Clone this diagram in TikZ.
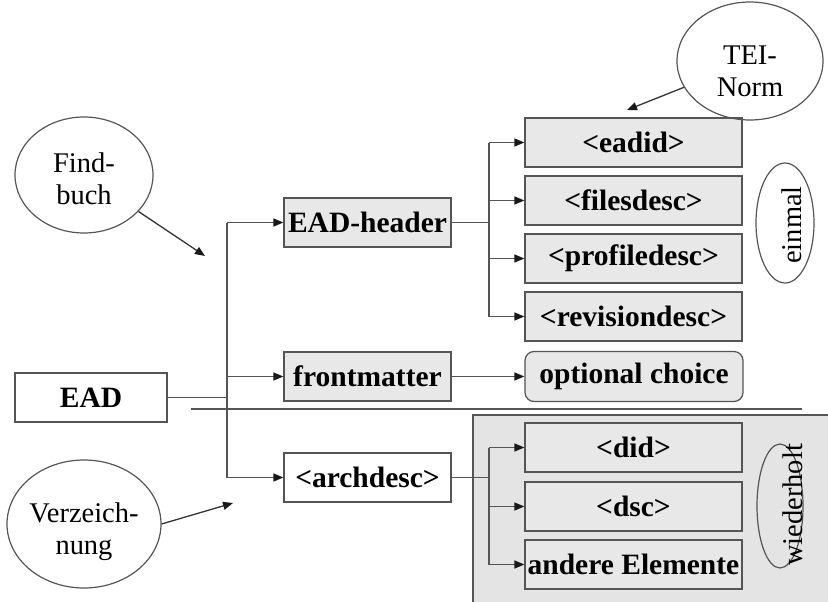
\documentclass[tikz,border=0pt]{standalone}
\usepackage{fontspec}
\setmainfont{Liberation Serif}
\usetikzlibrary{shapes.geometric,arrows.meta}
\definecolor{linegray}{HTML}{555555}
\definecolor{boxfill}{HTML}{E8E8E8}
\definecolor{panelfill}{HTML}{E4E4E4}
\begin{document}
\begin{tikzpicture}[x=1pt,y=-1pt,
  box/.style={draw=linegray, line width=1.2pt, fill=boxfill, minimum height=49pt,
    inner sep=0pt, font=\fontsize{29.5}{32}\selectfont\bfseries},
  conn/.style={draw=linegray, line width=1.3pt},
  arr/.style={conn, -{Triangle[length=10pt,width=8pt,color=black!90]}},
  ell/.style={ellipse, draw=linegray, line width=1.2pt, inner sep=0pt},
  elltext/.style={align=center, inner sep=0pt, font=\fontsize{28.5}{32}\selectfont}
]
\useasboundingbox (0,0) rectangle (828,602);

% panel for repeated elements
\fill[panelfill] (473,415) rectangle (828,602);
\draw[linegray, line width=1.2pt] (473,602) -- (473,415) -- (828,415);

% separator line
\coordinate (sepL) at (191,409);
\coordinate (sepR) at (802,409);
\draw[linegray, line width=2.5pt] (sepL) -- (sepR);

% main boxes
\node[box, fill=white, minimum width=152pt] (ead) at (91,397.5) {EAD};
\node[box, minimum width=167pt] (hdr) at (367.5,222.5) {EAD-header};
\node[box, minimum width=167pt] (front) at (367.5,376.5) {frontmatter};
\node[box, fill=white, minimum width=167pt] (arch) at (367.5,477.5) {<archdesc>};

\node[box, minimum width=217pt] (eadid) at (633.5,142.5) {<eadid>};
\node[box, minimum width=217pt] (files) at (633.5,200.5) {<filesdesc>};
\node[box, minimum width=217pt] (prof) at (633.5,258.5) {<profiledesc>};
\node[box, minimum width=217pt] (rev) at (633.5,316.5) {<revisiondesc>};

\node[box, rounded corners=9pt, minimum width=218pt, minimum height=50pt] (opt) at (634,376.5) {optional choice};

\node[box, minimum width=217pt] (did) at (633.5,447.5) {<did>};
\node[box, minimum width=217pt] (dsc) at (633.5,506.5) {<dsc>};
\node[box, minimum width=217pt] (other) at (633.5,564.5) {andere Elemente};

% branch coordinates
\coordinate (trunk) at (227,0);
\coordinate (br) at (489,0);

% EAD trunk
\draw[conn] (ead.east) -- (ead.east -| trunk);
\draw[conn] (hdr.west -| trunk) -- (arch.west -| trunk);
\draw[arr] (hdr.west -| trunk) -- (hdr.west);
\draw[arr] (front.west -| trunk) -- (front.west);
\draw[arr] (arch.west -| trunk) -- (arch.west);

% header branch
\draw[conn] (hdr.east) -- (hdr.east -| br);
\draw[conn] (eadid.west -| br) -- (rev.west -| br);
\draw[arr] (eadid.west -| br) -- (eadid.west);
\draw[arr] (files.west -| br) -- (files.west);
\draw[arr] (prof.west -| br) -- (prof.west);
\draw[arr] (rev.west -| br) -- (rev.west);

% frontmatter
\draw[arr] (front.east) -- (opt.west);

% archdesc branch
\draw[conn] (arch.east) -- (arch.east -| br);
\draw[conn] (did.west -| br) -- (other.west -| br);
\draw[arr] (did.west -| br) -- (did.west);
\draw[arr] (dsc.west -| br) -- (dsc.west);
\draw[arr] (other.west -| br) -- (other.west);

% ellipses
\node[ell, minimum width=138pt, minimum height=116pt] (fb) at (84,175) {};
\node[elltext] at (84,179) {Find-\\buch};
\node[ell, minimum width=154pt, minimum height=128pt] (vz) at (84,524) {};
\node[elltext] at (84,532) {Verzeich-\\nung};
\node[ell, minimum width=146pt, minimum height=118pt] (tei) at (750,61) {};
\node[elltext] at (750,71) {TEI-\\Norm};
\node[ell, minimum width=58pt, minimum height=120pt] (einmal) at (785,223) {};
\node[elltext, rotate=90] at (792,225) {einmal};
\node[ell, minimum width=46pt, minimum height=124pt] (wied) at (780,506) {};
\node[elltext, rotate=90] at (793,505) {wiederholt};

% pointer arrows
\coordinate (fbend) at (205,256);
\coordinate (vzend) at (233,503);
\coordinate (teiend) at (627,110);
\draw[arr, draw=black!80] (fb) -- (fbend);
\draw[arr, draw=black!80] (vz.east) -- (vzend);
\draw[arr, draw=black!80] (tei) -- (teiend);
\end{tikzpicture}
\end{document}
